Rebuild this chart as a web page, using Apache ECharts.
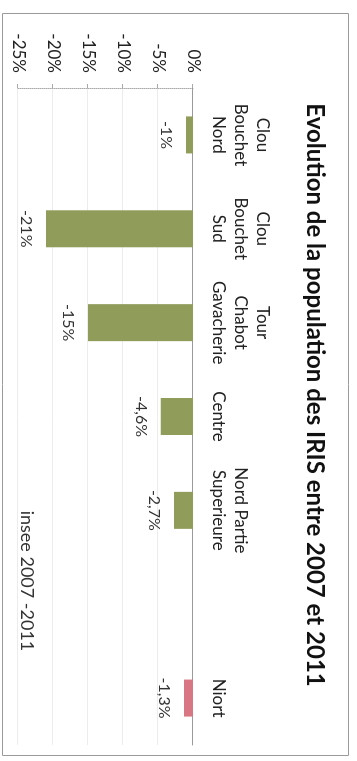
<!DOCTYPE html>
<html>
<head>
<meta charset="utf-8">
<script src="https://cdn.jsdelivr.net/npm/echarts@6/dist/echarts.min.js"></script>
<style>
  html, body { margin: 0; padding: 0; background: #fff; overflow: hidden; width: 357px; height: 761px; }
  /* chart is laid out landscape, then turned a quarter turn clockwise */
  #chart {
    position: absolute; left: 0; top: 0;
    width: 761px; height: 357px;
    transform-origin: 0 0;
    transform: translate(357px, 0) rotate(90deg);
  }
</style>
</head>
<body>
<div id="chart"></div>
<script>
// IRIS districts (one empty slot before the town total)
const categories = [
  'Clou\nBouchet\nNord',
  'Clou\nBouchet\nSud',
  'Tour\nChabot\nGavacherie',
  'Centre',
  'Nord Partie\nSuperieure',
  '',
  'Niort'
];
// population change 2007-2011, in %
const evolution = [-1, -21, -15, -4.6, -2.7, null, -1.3];
const axisMin = -25, axisMax = 0, axisStep = 5;

const titleText = 'Evolution de la population des IRIS entre 2007 et 2011';
const sourceText = 'insee 2007 -2011';

const GREEN = '#8f9c5a';
const PINK = '#d97683';
const FONT = 'Lato, "Open Sans", sans-serif';

const chart = echarts.init(document.getElementById('chart'));
chart.setOption({
  animation: false,
  backgroundColor: '#fff',
  title: {
    text: titleText,
    left: 390, top: 25, textAlign: 'center',
    textStyle: { fontFamily: FONT, fontSize: 24, fontWeight: 'bold', color: '#111' }
  },
  graphic: [
    {
      type: 'rect', silent: true,
      shape: { x: 13.5, y: 8.5, width: 742, height: 346 },
      style: { fill: 'none', stroke: '#9a9a9a', lineWidth: 1 }
    },
    {
      type: 'text', silent: true,
      x: 581, y: 330,
      style: {
        text: sourceText, font: '18px ' + FONT, fill: '#333',
        align: 'center', verticalAlign: 'middle'
      }
    }
  ],
  grid: { left: 88, right: 16, top: 164, bottom: 18, containLabel: false },
  xAxis: {
    type: 'category',
    position: 'top',
    data: categories,
    axisLine: { show: true, lineStyle: { color: '#9a9a9a', width: 1 } },
    axisTick: { show: false },
    axisLabel: {
      interval: 0, margin: 14,
      fontFamily: FONT, fontSize: 17, lineHeight: 22, color: '#222'
    },
    splitLine: { show: false }
  },
  yAxis: {
    type: 'value',
    min: axisMin, max: axisMax, interval: axisStep,
    axisLine: { show: true, lineStyle: { color: '#aaa', type: 'dotted' } },
    axisTick: { show: true, length: 4, lineStyle: { color: '#aaa' } },
    axisLabel: {
      formatter: '{value}%', margin: 15,
      fontFamily: FONT, fontSize: 17, color: '#222'
    },
    splitLine: { show: true, lineStyle: { color: '#ececec', width: 1 } }
  },
  series: [{
    type: 'bar',
    data: evolution,
    barWidth: 37,
    itemStyle: {
      color: p => (p.name === 'Niort' ? PINK : GREEN)
    },
    label: {
      show: true,
      position: 'bottom',
      distance: 12,
      fontFamily: FONT, fontSize: 16, color: '#333',
      formatter: p => String(p.value).replace('.', ',') + '%'
    }
  }]
});
</script>
</body>
</html>
